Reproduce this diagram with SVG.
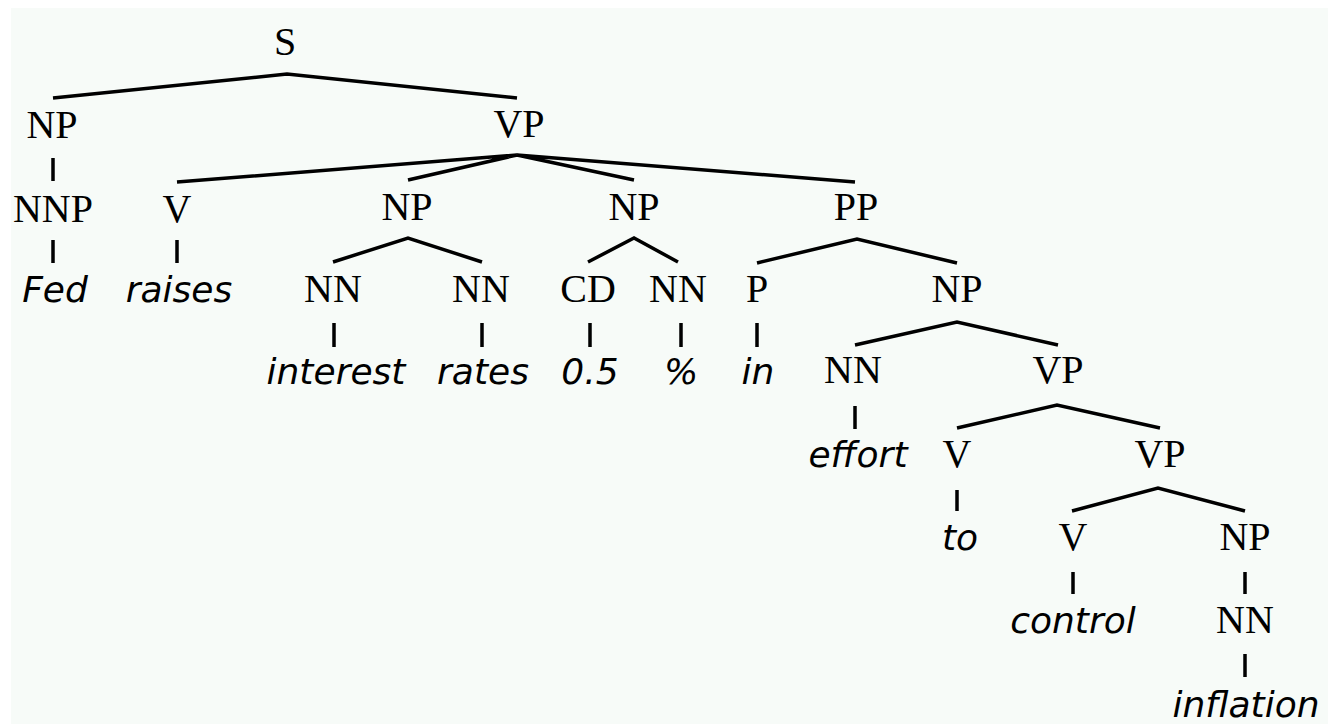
<svg xmlns="http://www.w3.org/2000/svg" width="1328" height="724" viewBox="0 0 1328 724">
<style>
.lab{font-family:"Liberation Serif","Times New Roman",serif;font-size:40px;fill:#000;text-anchor:middle}
.w{font-family:"DejaVu Sans",sans-serif;font-style:italic;font-size:36px;fill:#000;text-anchor:middle}
.e{stroke:#000;stroke-width:3.5;fill:none;stroke-linejoin:miter}
</style>
<rect x="0" y="0" width="1328" height="724" fill="#ffffff"/>
<rect x="11" y="8" width="1317" height="716" fill="#f7fbf8"/>
<g id="connectors">
<polyline class="e" points="53,98 287,74 517,98"/>
<path class="e" d="M177,182 L517,155 M408,180 L517,155 M634,180 L517,155 M855,182 L517,155"/>
<polyline class="e" points="333,262 408,238 482,262"/>
<polyline class="e" points="588,262 634,238 678,262"/>
<polyline class="e" points="757,263 857,239 957,263"/>
<polyline class="e" points="855,345 957,322 1058,345"/>
<polyline class="e" points="957,428 1057,405 1160,428"/>
<polyline class="e" points="1072,511 1158,488 1245,511"/>
<path class="e" d="M53,158V181 M53,240V263 M177,240V263 M334,323V347 M482,323V347 M590,323V347 M681,323V347 M757,323V347 M855,406V429 M957,490V511 M1073,572V594 M1245,572V594 M1245,654V677"/>
</g>
<g id="n-S"><text class="lab" x="285" y="55">S</text></g>
<g id="n-NP1"><text class="lab" x="52" y="138">NP</text></g>
<g id="n-VP1"><text class="lab" x="519" y="137">VP</text></g>
<g id="n-NNP"><text class="lab" x="53" y="222">NNP</text></g>
<g id="n-V1"><text class="lab" x="177" y="222">V</text></g>
<g id="n-NP2"><text class="lab" x="407" y="220">NP</text></g>
<g id="n-NP3"><text class="lab" x="634" y="220">NP</text></g>
<g id="n-PP"><text class="lab" x="856" y="220">PP</text></g>
<g id="n-Fed"><text class="w" x="55" y="302">Fed</text></g>
<g id="n-raises"><text class="w" x="179" y="302">raises</text></g>
<g id="n-NN1"><text class="lab" x="333" y="302">NN</text></g>
<g id="n-NN2"><text class="lab" x="481" y="302">NN</text></g>
<g id="n-CD"><text class="lab" x="588" y="302">CD</text></g>
<g id="n-NN3"><text class="lab" x="678" y="302">NN</text></g>
<g id="n-P"><text class="lab" x="757" y="302">P</text></g>
<g id="n-NP4"><text class="lab" x="957" y="302">NP</text></g>
<g id="n-interest"><text class="w" x="336" y="384">interest</text></g>
<g id="n-rates"><text class="w" x="483" y="384">rates</text></g>
<g id="n-05"><text class="w" x="590" y="384">0.5</text></g>
<g id="n-pct"><text class="w" x="681" y="384">%</text></g>
<g id="n-in"><text class="w" x="758" y="384">in</text></g>
<g id="n-NN4"><text class="lab" x="853" y="383">NN</text></g>
<g id="n-VP2"><text class="lab" x="1058" y="383">VP</text></g>
<g id="n-effort"><text class="w" x="858" y="467">effort</text></g>
<g id="n-V2"><text class="lab" x="957" y="467">V</text></g>
<g id="n-VP3"><text class="lab" x="1160" y="467">VP</text></g>
<g id="n-to"><text class="w" x="960" y="550">to</text></g>
<g id="n-V3"><text class="lab" x="1073" y="550">V</text></g>
<g id="n-NP5"><text class="lab" x="1245" y="550">NP</text></g>
<g id="n-control"><text class="w" x="1073" y="633">control</text></g>
<g id="n-NN5"><text class="lab" x="1245" y="633">NN</text></g>
<g id="n-inflation"><text class="w" x="1246" y="717">inflation</text></g>
</svg>
